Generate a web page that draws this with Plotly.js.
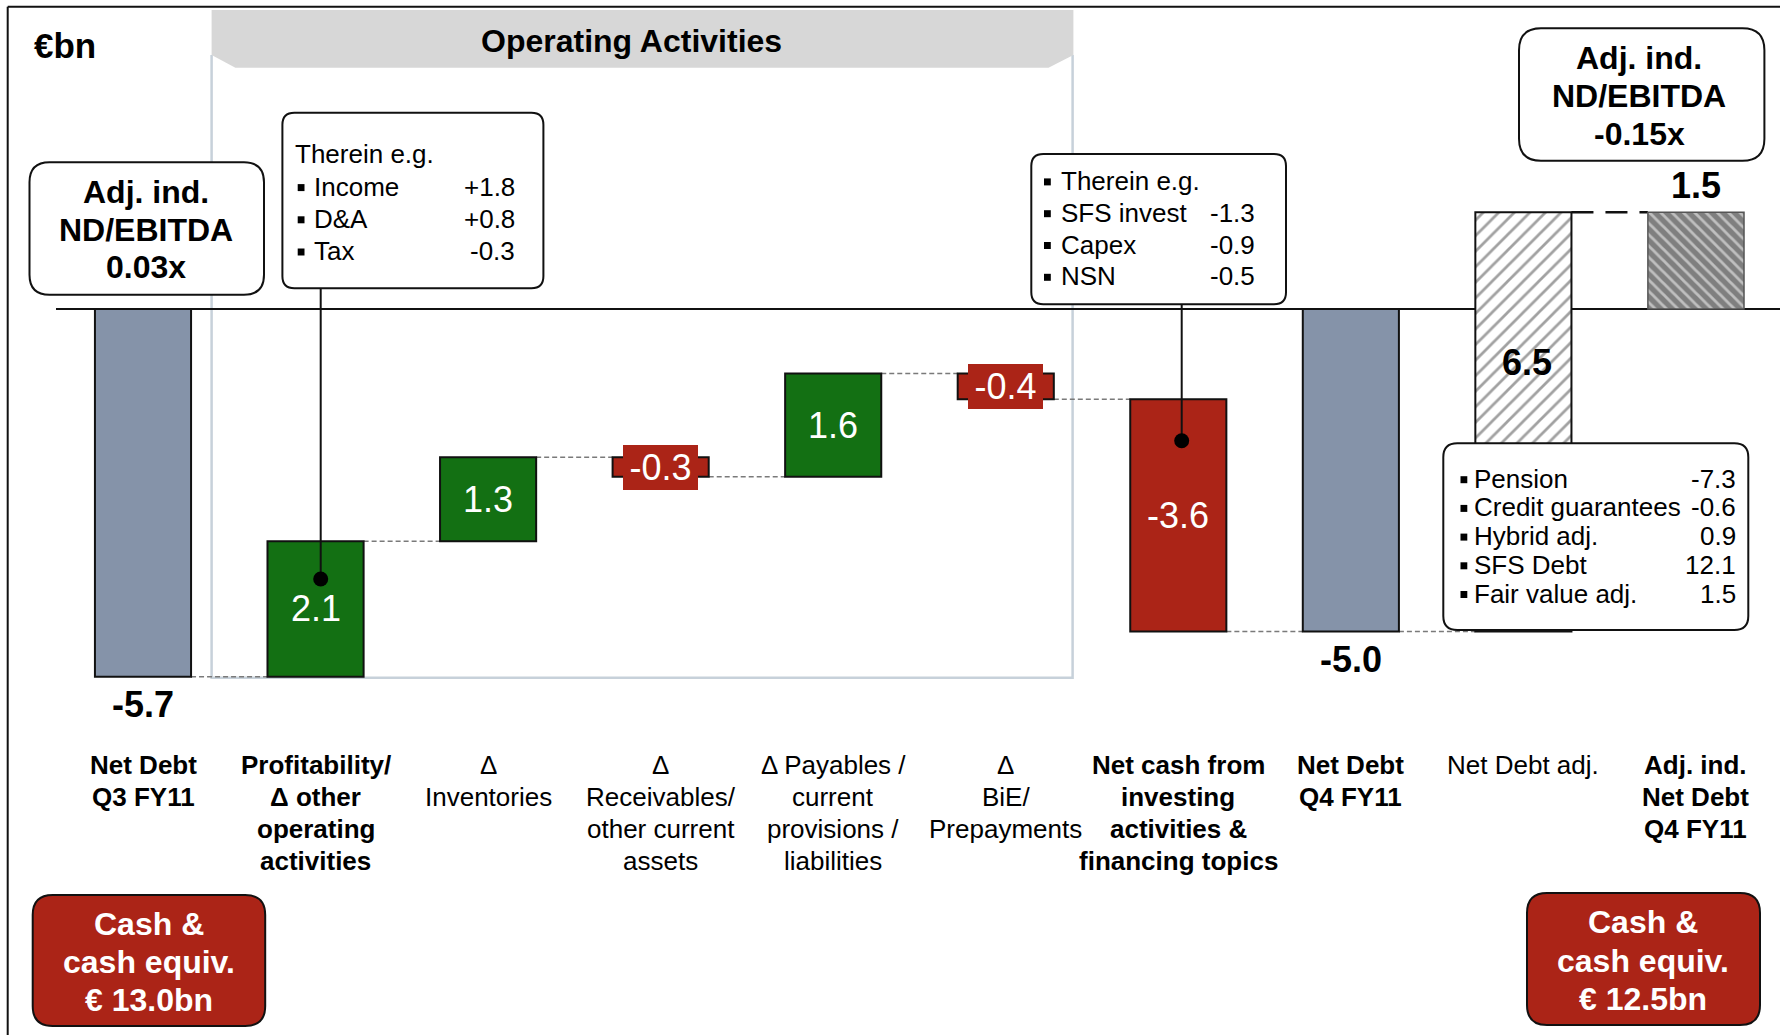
<!DOCTYPE html>
<html><head><meta charset="utf-8">
<script src="https://cdn.plot.ly/plotly-3.0.1.min.js"></script>
<style>html,body{margin:0;padding:0;background:#fff;overflow:hidden}#chart{width:1780px;height:1035px}</style>
</head><body><div id="chart"></div>
<script>
// ---------------- DATA ----------------
const categories = ['Net Debt Q3 FY11', 'Profitability/Δ other operating activities', 'Δ Inventories',
  'Δ Receivables/other current assets', 'Δ Payables/current provisions/liabilities', 'Δ BiE/Prepayments',
  'Net cash from investing activities & financing topics', 'Net Debt Q4 FY11', 'Net Debt adj.', 'Adj. ind. Net Debt Q4 FY11'];
const values = [-5.7, 2.1, 1.3, -0.3, 1.6, -0.4, -3.6, -5.0, 6.5, 1.5];
const measures = ['absolute', 'relative', 'relative', 'relative', 'relative', 'relative', 'relative', 'absolute', 'relative', 'absolute'];
const valueLabels = ['-5.7', '2.1', '1.3', '-0.3', '1.6', '-0.4', '-3.6', '-5.0', '6.5', '1.5'];
const categoryLines = [
  ['Net Debt', 'Q3 FY11'],
  ['Profitability/', 'Δ other', 'operating', 'activities'],
  ['Δ', 'Inventories'],
  ['Δ', 'Receivables/', 'other current', 'assets'],
  ['Δ Payables /', 'current', 'provisions /', 'liabilities'],
  ['Δ', 'BiE/', 'Prepayments'],
  ['Net cash from', 'investing', 'activities &', 'financing topics'],
  ['Net Debt', 'Q4 FY11'],
  ['Net Debt adj.'],
  ['Adj. ind.', 'Net Debt', 'Q4 FY11']
];
const categoryBold = [true, true, false, false, false, false, true, true, false, true];

const unitLabel = '€bn';
const sectionTitle = 'Operating Activities';
const opDetailTitle = 'Therein e.g.';
const opDetailItems = ['Income', 'D&A', 'Tax'];
const opDetailValues = ['+1.8', '+0.8', '-0.3'];
const invDetailItems = ['Therein e.g.', 'SFS invest', 'Capex', 'NSN'];
const invDetailValues = ['', '-1.3', '-0.9', '-0.5'];
const adjItems = ['Pension', 'Credit guarantees', 'Hybrid adj.', 'SFS Debt', 'Fair value adj.'];
const adjValues = ['-7.3', '-0.6', '0.9', '12.1', '1.5'];
const ratioQ3Lines = ['Adj. ind.', 'ND/EBITDA', '0.03x'];
const ratioQ4Lines = ['Adj. ind.', 'ND/EBITDA', '-0.15x'];
const cashQ3Lines = ['Cash &', 'cash equiv.', '€ 13.0bn'];
const cashQ4Lines = ['Cash &', 'cash equiv.', '€ 12.5bn'];

// ---------------- LAYOUT HELPERS ----------------
const FONT = '"Liberation Sans", Arial, Helvetica, sans-serif';
const W = 1780, H = 1035;
const ZERO_PX = 309, PX_PER_UNIT = 64.5, FIRST_PX = 143, STEP_PX = 172.55, BAR_W = 0.557;
const px = x => x / W, py = y => 1 - y / H;
const RED = '#ab2417', GREEN = '#137013', GRAY = '#8593a9';

const idx = categories.map((_, i) => i);
const last = values.length - 1;
const isAdj = i => categories[i] === 'Net Debt adj.';
const bases = [], ends = [];
let run = 0;
values.forEach((v, i) => {
  if (measures[i] === 'absolute') { bases.push(0); run = v; }
  else { bases.push(run); run = +(run + v).toFixed(4); }
  ends.push(run);
});

const barColor = values.map((v, i) => i === last ? '#7f7f7f' : isAdj(i) ? '#ffffff' : measures[i] === 'absolute' ? GRAY : v > 0 ? GREEN : RED);
const patShape = values.map((v, i) => i === last ? '\\' : isAdj(i) ? '/' : '');
const patFg = values.map((v, i) => i === last ? '#2e2e2e' : isAdj(i) ? '#cfcfcf' : '#000000');
const patSize = values.map((v, i) => i === last ? 8 : 11);
const patSolid = values.map((v, i) => i === last ? 0.35 : 0.25);
const lineCol = values.map((v, i) => i === last ? '#555555' : '#111111');
const lineW = values.map((v, i) => i === last ? 1.5 : 2);

const bars = {
  type: 'bar', x: idx, y: values, base: bases, width: BAR_W,
  marker: {
    color: barColor,
    line: { color: lineCol, width: lineW },
    pattern: { fillmode: 'overlay', shape: patShape, fgcolor: patFg, size: patSize, solidity: patSolid }
  },
  hoverinfo: 'skip', showlegend: false
};

const shapes = [];
const annotations = [];

function roundRect(x0, y0, x1, y1, r) {
  const P = (x, y) => `${px(x)},${py(y)}`;
  return `M ${P(x0 + r, y0)} L ${P(x1 - r, y0)} Q ${P(x1, y0)} ${P(x1, y0 + r)} L ${P(x1, y1 - r)} Q ${P(x1, y1)} ${P(x1 - r, y1)} ` +
    `L ${P(x0 + r, y1)} Q ${P(x0, y1)} ${P(x0, y1 - r)} L ${P(x0, y0 + r)} Q ${P(x0, y0)} ${P(x0 + r, y0)} Z`;
}
function box(x0, y0, x1, y1, r, fill, lw) {
  shapes.push({ type: 'path', xref: 'paper', yref: 'paper', path: roundRect(x0, y0, x1, y1, r),
    fillcolor: fill, line: { color: '#111', width: lw || 2 }, layer: 'above' });
}
function txt(text, x, y, o) {
  o = o || {};
  annotations.push({ xref: 'paper', yref: 'paper', x: px(x), y: py(y), text, showarrow: false,
    xanchor: o.anchor || 'center', yanchor: 'middle', borderpad: 0, borderwidth: 0,
    font: { family: FONT, size: o.size || 26, color: o.color || '#000' } });
}
function bullet(x, y) {
  shapes.push({ type: 'rect', xref: 'paper', yref: 'paper', x0: px(x), x1: px(x + 6.8), y0: py(y - 2.6), y1: py(y + 4.4),
    fillcolor: '#000', line: { width: 0 }, layer: 'above' });
}

// outer frame
shapes.push({ type: 'line', xref: 'paper', yref: 'paper', x0: px(7.7), x1: px(7.7), y0: py(6.7), y1: 0, line: { color: '#111', width: 2 } });
shapes.push({ type: 'line', xref: 'paper', yref: 'paper', x0: px(7.7), x1: 1, y0: py(6.7), y1: py(6.7), line: { color: '#111', width: 2 } });

// operating activities bracket
shapes.push({ type: 'path', xref: 'paper', yref: 'paper', layer: 'below',
  path: `M ${px(211.6)},${py(55)} L ${px(211.6)},${py(677.7)} L ${px(1072.6)},${py(677.7)} L ${px(1072.6)},${py(55)}`,
  line: { color: '#c7d1da', width: 2.5 } });
shapes.push({ type: 'path', xref: 'paper', yref: 'paper', layer: 'below',
  path: `M ${px(211.6)},${py(10)} L ${px(1073.4)},${py(10)} L ${px(1073.4)},${py(55)} L ${px(1048.5)},${py(67.7)} L ${px(235.4)},${py(67.7)} L ${px(211.6)},${py(55)} Z`,
  fillcolor: '#d7d7d7', line: { width: 0 } });

// zero line
shapes.push({ type: 'line', xref: 'paper', yref: 'y', x0: px(56), x1: 1, y0: 0, y1: 0, layer: 'below', line: { color: '#111', width: 2 } });

// connectors
for (let i = 0; i < last; i++) {
  const toFinal = (i + 1 === last);
  shapes.push({ type: 'line', xref: 'x', yref: 'y', x0: i + BAR_W / 2, x1: i + 1 - BAR_W / 2, y0: ends[i], y1: ends[i],
    layer: 'below', line: toFinal ? { color: '#111', width: 2.5, dash: '22px,12px' } : { color: '#7a7a7a', width: 1.5, dash: '5px,3px' } });
}

// value labels
values.forEach((v, i) => {
  const lab = valueLabels[i];
  const base = { xref: 'x', yref: 'y', x: i, showarrow: false, xanchor: 'center', yanchor: 'middle', borderpad: 0, borderwidth: 0 };
  if (measures[i] === 'absolute') {
    annotations.push(Object.assign({}, base, { y: ends[i], yshift: v < 0 ? -28 : 27, text: `<b>${lab}</b>`, font: { family: FONT, size: 36, color: '#000' } }));
  } else if (isAdj(i)) {
    annotations.push(Object.assign({}, base, { y: ends[i], yshift: -150, xshift: 4, text: `<b>${lab}</b>`, font: { family: FONT, size: 36, color: '#000' } }));
  } else if (Math.abs(v) * PX_PER_UNIT < 45) {
    annotations.push(Object.assign({}, base, { y: bases[i] + v / 2, text: lab, bgcolor: RED, width: 75, height: 45, font: { family: FONT, size: 36, color: '#fff' } }));
  } else {
    annotations.push(Object.assign({}, base, { y: bases[i] + v / 2, text: lab, font: { family: FONT, size: 36, color: '#fff' } }));
  }
});

// category labels
categoryLines.forEach((lines, i) => {
  lines.forEach((ln, j) => {
    annotations.push({ xref: 'x', yref: 'paper', x: i, y: py(764.5 + j * 32.3), showarrow: false, xanchor: 'center', yanchor: 'middle',
      borderpad: 0, borderwidth: 0, text: categoryBold[i] ? `<b>${ln}</b>` : ln, font: { family: FONT, size: 26, color: '#000' } });
  });
});

// headers
txt(`<b>${unitLabel}</b>`, 64.5, 45.8, { size: 35 });
txt(`<b>${sectionTitle}</b>`, 631, 41, { size: 32 });

// ratio boxes
box(29.5, 162.3, 264, 294.7, 20, '#fff');
ratioQ3Lines.forEach((l, j) => txt(`<b>${l}</b>`, 145.5, 192 + j * 37.5, { size: 32 }));
box(1519, 28.3, 1764.4, 160.7, 22, '#fff');
ratioQ4Lines.forEach((l, j) => txt(`<b>${l}</b>`, 1639, 57.5 + j * 38.5, { size: 32 }));

// operating detail callout
box(282.4, 112.7, 543.4, 288.3, 12, '#fff');
shapes.push({ type: 'line', xref: 'paper', yref: 'paper', x0: px(320.7), x1: px(320.7), y0: py(288.3), y1: py(579), layer: 'above', line: { color: '#111', width: 2 } });
shapes.push({ type: 'circle', xref: 'paper', yref: 'paper', x0: px(313.2), x1: px(328.2), y0: py(571.5), y1: py(586.5), layer: 'above', fillcolor: '#000', line: { width: 0 } });
txt(opDetailTitle, 294.7, 153.7, { anchor: 'left' });
opDetailItems.forEach((it, j) => {
  const y = 186.7 + j * 32.2;
  bullet(297.7, y);
  txt(it, 313.6, y, { anchor: 'left' });
  txt(opDetailValues[j], 514.7, y, { anchor: 'right' });
});

// investing detail callout
box(1031.3, 154, 1286, 304.3, 12, '#fff');
shapes.push({ type: 'line', xref: 'paper', yref: 'paper', x0: px(1181.7), x1: px(1181.7), y0: py(304.3), y1: py(440.7), layer: 'above', line: { color: '#111', width: 2 } });
shapes.push({ type: 'circle', xref: 'paper', yref: 'paper', x0: px(1174.2), x1: px(1189.2), y0: py(433.2), y1: py(448.2), layer: 'above', fillcolor: '#000', line: { width: 0 } });
invDetailItems.forEach((it, j) => {
  const y = 181 + j * 31.8;
  bullet(1044, y);
  txt(it, 1061.3, y, { anchor: 'left' });
  if (invDetailValues[j]) txt(invDetailValues[j], 1255.4, y, { anchor: 'right' });
});

// adjustment detail callout
box(1443.3, 443.3, 1748.3, 630, 14, '#fff');
adjItems.forEach((it, j) => {
  const y = 478.8 + j * 28.7;
  bullet(1460.5, y);
  txt(it, 1474, y, { anchor: 'left' });
  txt(adjValues[j], 1735.7, y, { anchor: 'right' });
});

// cash boxes
box(32.7, 895, 265.2, 1026, 20, RED);
cashQ3Lines.forEach((l, j) => txt(`<b>${l}</b>`, 148.5, 923.7 + j * 38.3, { size: 32, color: '#fff' }));
box(1527, 893, 1760, 1025, 20, RED);
cashQ4Lines.forEach((l, j) => txt(`<b>${l}</b>`, 1643, 922 + j * 38.5, { size: 32, color: '#fff' }));

const layout = {
  width: W, height: H, margin: { l: 0, r: 0, t: 0, b: 0, pad: 0 },
  paper_bgcolor: '#fff', plot_bgcolor: '#fff', showlegend: false,
  xaxis: { type: 'linear', range: [-FIRST_PX / STEP_PX, (W - FIRST_PX) / STEP_PX], visible: false, fixedrange: true },
  yaxis: { type: 'linear', range: [-(H - ZERO_PX) / PX_PER_UNIT, ZERO_PX / PX_PER_UNIT], visible: false, fixedrange: true },
  bargap: 0, shapes, annotations,
  font: { family: FONT }
};
Plotly.newPlot('chart', [bars], layout, { staticPlot: true, displayModeBar: false });
</script></body></html>
